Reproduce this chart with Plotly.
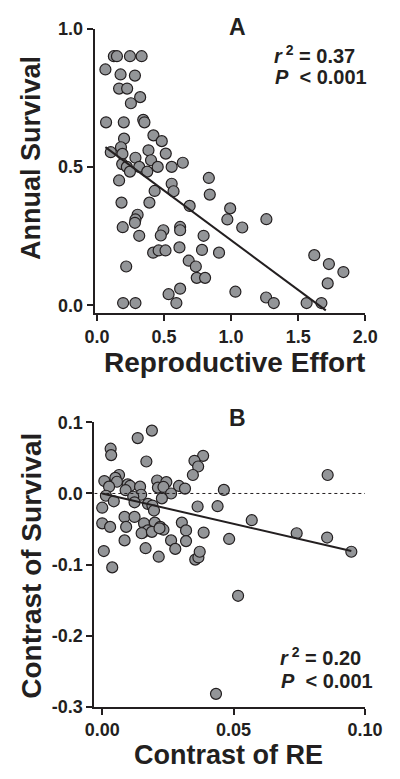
import plotly.graph_objects as go

# ---------------- data ----------------
# Panel A: reproductive effort vs annual survival
re_A = [0.126, 0.149, 0.246, 0.333, 0.063, 0.176, 0.283, 0.165, 0.225, 0.322,
        0.253, 0.068, 0.200, 0.345, 0.354, 0.421, 0.202, 0.483, 0.179, 0.103,
        0.190, 0.384, 0.513, 0.287, 0.403, 0.640, 0.315, 0.453, 0.557, 0.188,
        0.223, 0.246, 0.375, 0.165, 0.557, 0.834, 0.430, 0.571, 0.841, 0.183,
        0.391, 0.691, 0.993, 0.972, 1.263, 0.303, 0.287, 0.283, 0.192, 1.083,
        0.495, 0.620, 0.620, 0.476, 0.315, 0.795, 0.419, 0.460, 0.511, 0.615,
        0.783, 0.910, 1.620, 1.729, 1.837, 1.720, 0.684, 0.737, 0.218, 0.744,
        0.806, 1.032, 0.620, 0.534, 1.261, 1.318, 0.195, 0.287, 0.592, 1.563,
        1.673]
surv_A = [0.900, 0.900, 0.900, 0.900, 0.852, 0.834, 0.830, 0.783, 0.783, 0.752,
          0.730, 0.661, 0.661, 0.670, 0.661, 0.614, 0.602, 0.593, 0.571, 0.553,
          0.547, 0.560, 0.548, 0.533, 0.524, 0.515, 0.500, 0.500, 0.500, 0.510,
          0.500, 0.483, 0.483, 0.451, 0.439, 0.460, 0.413, 0.412, 0.400, 0.371,
          0.371, 0.359, 0.350, 0.310, 0.311, 0.327, 0.310, 0.298, 0.282, 0.281,
          0.271, 0.283, 0.271, 0.252, 0.251, 0.251, 0.190, 0.198, 0.198, 0.209,
          0.200, 0.190, 0.181, 0.149, 0.120, 0.079, 0.161, 0.140, 0.140, 0.099,
          0.099, 0.049, 0.060, 0.040, 0.028, 0.008, 0.008, 0.008, 0.008, 0.008,
          0.008]
fit_A = {"slope": -0.359, "intercept": 0.594, "x_start": 0.063, "x_end": 1.706}

# Panel B: phylogenetic contrasts
re_B = [0.0189, 0.0135, 0.0032, 0.0034, 0.0168, 0.0384, 0.0351, 0.0365, 0.0345, 0.0858,
        0.0064, 0.0050, 0.0008, 0.0056, 0.0026, 0.0097, 0.0106, 0.0144, 0.0209, 0.0244,
        0.0212, 0.0233, 0.0292, 0.0315, 0.0463, 0.0089, 0.0262, 0.0148, 0.0118, 0.0014,
        0.0044, 0.0123, 0.0227, 0.0174, 0.0191, 0.0197, 0.0000, 0.0363, 0.0439, 0.0085,
        0.0123, 0.0569, 0.0000, 0.0030, 0.0091, 0.0159, 0.0200, 0.0221, 0.0233, 0.0154,
        0.0174, 0.0303, 0.0319, 0.0386, 0.0740, 0.0856, 0.0483, 0.0085, 0.0006, 0.0038,
        0.0150, 0.0189, 0.0165, 0.0215, 0.0218, 0.0262, 0.0278, 0.0319, 0.0354, 0.0366,
        0.0371, 0.0948, 0.0517, 0.0433]
surv_B = [0.0885, 0.0780, 0.0630, 0.0540, 0.0450, 0.0530, 0.0460, 0.0380, 0.0260, 0.0260,
          0.0260, 0.0220, 0.0175, 0.0165, 0.0096, 0.0128, 0.0106, 0.0096, 0.0183, 0.0160,
          0.0083, 0.0092, 0.0106, 0.0069, 0.0050, 0.0046, 0.0000, -0.0018, -0.0046, -0.0032,
          -0.0110, -0.0124, -0.0069, -0.0147, -0.0170, -0.0240, -0.0200, -0.0183, -0.0179, -0.0330,
          -0.0330, -0.0376, -0.0420, -0.0470, -0.0470, -0.0420, -0.0410, -0.0470, -0.0510, -0.0550,
          -0.0520, -0.0410, -0.0520, -0.0550, -0.0560, -0.0620, -0.0640, -0.0660, -0.0810, -0.1040,
          -0.0560, -0.0540, -0.0770, -0.0890, -0.0490, -0.0660, -0.0780, -0.0670, -0.0930, -0.0900,
          -0.0820, -0.0820, -0.1440, -0.2820]
fit_B = {"slope": -0.855, "intercept": 0.0, "x_start": 0.0, "x_end": 0.0948}

ticks_xA = [0.0, 0.5, 1.0, 1.5, 2.0]
ticks_yA = [0.0, 0.5, 1.0]
ticks_xB = [0.00, 0.05, 0.10]
ticks_yB = [-0.3, -0.2, -0.1, 0.0, 0.1]

# ---------------- styling ----------------
W, H = 400, 779
INK = "#231f20"
FILL = "#939598"
FAM = "Liberation Sans, Arial, sans-serif"


def px(x):
    return x / W


def py(y):
    return 1 - y / H


fig = go.Figure()

marker = dict(size=11, color=FILL, line=dict(color=INK, width=1.2))

fig.add_trace(go.Scatter(x=re_A, y=surv_A, mode="markers", marker=marker,
                         xaxis="x", yaxis="y", showlegend=False))
fa_x = [fit_A["x_start"], fit_A["x_end"]]
fig.add_trace(go.Scatter(x=fa_x, y=[fit_A["intercept"] + fit_A["slope"] * v for v in fa_x],
                         mode="lines", line=dict(color=INK, width=2),
                         xaxis="x", yaxis="y", showlegend=False))

fig.add_trace(go.Scatter(x=re_B, y=surv_B, mode="markers", marker=marker,
                         xaxis="x2", yaxis="y2", showlegend=False))
fb_x = [fit_B["x_start"], fit_B["x_end"]]
fig.add_trace(go.Scatter(x=fb_x, y=[fit_B["intercept"] + fit_B["slope"] * v for v in fb_x],
                         mode="lines", line=dict(color=INK, width=2),
                         xaxis="x2", yaxis="y2", showlegend=False))

tickfont = dict(family=FAM, size=18, color=INK, weight="bold")
common = dict(showgrid=False, zeroline=False, showline=True, linecolor=INK, linewidth=2,
              ticks="outside", ticklen=6, tickwidth=2, tickcolor=INK, tickfont=tickfont,
              fixedrange=True)


def lab(vals, fmt):
    return [f"<b>{v:{fmt}}</b>" for v in vals]


fig.update_layout(
    width=W, height=H, margin=dict(l=0, r=0, t=0, b=0),
    paper_bgcolor="white", plot_bgcolor="white",
    xaxis=dict(domain=[px(91), px(382)], range=[-0.0173, 2.0], anchor="y",
               tickvals=ticks_xA, ticktext=lab(ticks_xA, ".1f"), **common),
    yaxis=dict(domain=[py(311), py(19)], range=[-0.028, 1.0], anchor="x",
               tickvals=ticks_yA, ticktext=lab(ticks_yA, ".1f"), **common),
    xaxis2=dict(domain=[px(90.7), px(381.7)], range=[-0.003, 0.10], anchor="y2",
                tickvals=ticks_xB, ticktext=lab(ticks_xB, ".2f"), **common),
    yaxis2=dict(domain=[py(715), py(423.3)], range=[-0.3, 0.1], anchor="x2",
                tickvals=ticks_yB, ticktext=lab(ticks_yB, ".1f"), **common),
)

# dotted zero line in panel B
fig.add_shape(type="line", xref="x2", yref="y2", x0=-0.003, x1=0.10, y0=0, y1=0,
              line=dict(color=INK, width=1, dash="dot"))


def ann(text, x, y, size, xanchor="center", angle=0):
    fig.add_annotation(text=f"<b>{text}</b>", x=px(x), y=py(y), xref="paper", yref="paper",
                       xanchor=xanchor, yanchor="middle", showarrow=False, textangle=angle,
                       font=dict(family=FAM, size=size, color=INK, weight="bold"))


ann("A", 245, 17, 23)
ann("B", 245, 419, 23)
ann("<i>r</i><sup> 2</sup> = 0.37", 282, 46, 20, "left")
ann("<i>P</i>  &lt; 0.001", 283, 69, 20, "left")
ann("<i>r</i><sup> 2</sup> = 0.20", 288, 664, 20, "left")
ann("<i>P</i>  &lt; 0.001", 289, 689, 20, "left")

ann("Reproductive Effort", 241, 362, 28)
ann("Annual Survival", 22.5, 152, 27, angle=-90)
ann("Contrast of RE", 235, 765, 27)
ann("Contrast of Survival", 23, 570, 28, angle=-90)

fig.write_html("out.html")
